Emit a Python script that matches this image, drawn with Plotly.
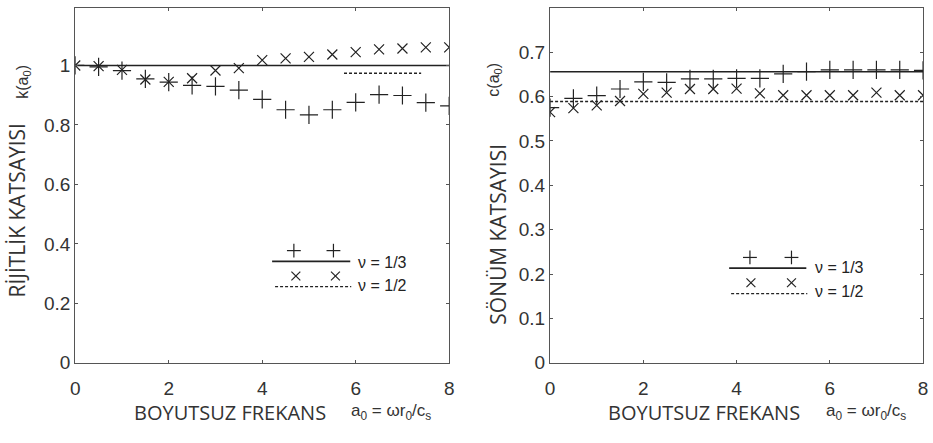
import plotly.graph_objects as go

a0 = [0, 0.5, 1, 1.5, 2, 2.5, 3, 3.5, 4, 4.5, 5, 5.5, 6, 6.5, 7, 7.5, 8]

k_nu13 = [1.0, 0.995, 0.983, 0.955, 0.944, 0.933, 0.93, 0.917, 0.886, 0.851,
          0.834, 0.851, 0.876, 0.902, 0.899, 0.875, 0.864]
k_nu12 = [1.0, 0.998, 0.985, 0.953, 0.945, 0.957, 0.983, 0.991, 1.018, 1.024,
          1.029, 1.037, 1.045, 1.054, 1.057, 1.061, 1.061]
k_static_13 = 1.0
k_static_12 = 0.974
k_static_12_x = [5.75, 7.4]

c_nu13 = [0.575, 0.596, 0.602, 0.617, 0.633, 0.632, 0.64, 0.64, 0.641, 0.641,
          0.651, 0.656, 0.66, 0.66, 0.66, 0.66, 0.659]
c_nu12 = [0.565, 0.574, 0.58, 0.59, 0.606, 0.609, 0.617, 0.617, 0.618, 0.607,
          0.603, 0.603, 0.603, 0.603, 0.609, 0.603, 0.603]
c_static_13 = 0.656
c_static_12 = 0.589

xticks = [0, 2, 4, 6, 8]
k_yticks = [0, 0.2, 0.4, 0.6, 0.8, 1]
k_yticklabels = ["0", "0.2", "0.4", "0.6", "0.8", "1"]
c_yticks = [0, 0.1, 0.2, 0.3, 0.4, 0.5, 0.6, 0.7, 0.8]
c_yticklabels = ["0", "0.1", "0.2", "0.3", "0.4", "0.5", "0.6", "0.7", "0.8"]

W, H = 933, 443
INK = "#222222"
AX = "#555555"
TXT = "#333333"
FONT = "Liberation Sans"
TFONT = "Open Sans"

fig = go.Figure()

plus_marker = dict(symbol="cross-thin", size=13, line=dict(color=INK, width=1.2))
x_marker = dict(symbol="x-thin", size=10, line=dict(color=INK, width=1.2))

# --- left panel: stiffness
fig.add_trace(go.Scatter(x=[0, 8], y=[k_static_13, k_static_13], mode="lines",
                         line=dict(color=INK, width=1.5), xaxis="x", yaxis="y"))
fig.add_trace(go.Scatter(x=k_static_12_x, y=[k_static_12, k_static_12], mode="lines",
                         line=dict(color=INK, width=1.5, dash="3px,2px"), xaxis="x", yaxis="y"))
fig.add_trace(go.Scatter(x=a0, y=k_nu13, mode="markers", marker=plus_marker, xaxis="x", yaxis="y"))
fig.add_trace(go.Scatter(x=a0, y=k_nu12, mode="markers", marker=x_marker, xaxis="x", yaxis="y"))

# --- right panel: damping
fig.add_trace(go.Scatter(x=[0, 8], y=[c_static_13, c_static_13], mode="lines",
                         line=dict(color=INK, width=1.5), xaxis="x2", yaxis="y2"))
fig.add_trace(go.Scatter(x=[0, 8], y=[c_static_12, c_static_12], mode="lines",
                         line=dict(color=INK, width=1.5, dash="3px,2px"), xaxis="x2", yaxis="y2"))
fig.add_trace(go.Scatter(x=a0, y=c_nu13, mode="markers", marker=plus_marker, xaxis="x2", yaxis="y2"))
fig.add_trace(go.Scatter(x=a0, y=c_nu12, mode="markers", marker=x_marker, xaxis="x2", yaxis="y2"))

ydom = [(H - 372) / H, (H - 8) / H]
axcommon = dict(showgrid=False, zeroline=False, showline=True, linecolor=AX, linewidth=1.2,
                mirror="ticks", ticks="inside", ticklen=3, tickcolor=AX,
                tickfont=dict(family=FONT, size=19, color=TXT))

fig.update_layout(
    width=W, height=H, margin=dict(l=0, r=0, t=0, b=0),
    paper_bgcolor="white", plot_bgcolor="white", showlegend=False,
    xaxis=dict(domain=[71 / W, 449 / W], range=[0, 8], tickvals=xticks, anchor="y",
               ticklabelstandoff=8, **axcommon),
    yaxis=dict(domain=ydom, range=[0, 1.194], tickvals=k_yticks, ticktext=k_yticklabels,
               anchor="x", **axcommon),
    xaxis2=dict(domain=[551 / W, 928 / W], range=[0, 8], tickvals=xticks, anchor="y2",
                ticklabelstandoff=8, **axcommon),
    yaxis2=dict(domain=ydom, range=[0, 0.8], tickvals=c_yticks, ticktext=c_yticklabels,
                anchor="x2", **axcommon),
)

ann = []
shapes = []


def px(xp, yp, **kw):
    d = dict(x=xp / W, y=1 - yp / H, xref="paper", yref="paper", showarrow=False)
    d.update(kw)
    return d


def seg(x0, y0, x1, y1, width=1.2, dash=None):
    ln = dict(color=INK, width=width)
    if dash:
        ln["dash"] = dash
    return dict(type="line", xref="paper", yref="paper", x0=x0 / W, x1=x1 / W,
                y0=1 - y0 / H, y1=1 - y1 / H, line=ln)


# x titles
for x0 in (128, 608):
    ann.append(px(x0, 423, text="BOYUTSUZ FREKANS", xanchor="left", yanchor="middle",
                  font=dict(family=TFONT, size=20, color=TXT)))
    ann.append(px(x0 + 220, 423,
                  text="a<sub>0</sub> = ωr<sub>0</sub>/c<sub>s</sub>", xanchor="left",
                  yanchor="middle", font=dict(family=FONT, size=17, color=TXT)))

# y titles
ann.append(px(12, 215, text="RİJİTLİK KATSAYISI", textangle=-90, xanchor="center",
              yanchor="middle", font=dict(family=TFONT, size=21, color=TXT)))
ann.append(px(19, 84, text="k(a<sub>0</sub>)", textangle=-90, xanchor="center",
              yanchor="middle", font=dict(family=FONT, size=16, color=TXT)))
ann.append(px(498, 240, text="SÖNÜM KATSAYISI", textangle=-90, xanchor="center",
              yanchor="middle", font=dict(family=TFONT, size=21, color=TXT)))
ann.append(px(495, 82, text="c(a<sub>0</sub>)", textangle=-90, xanchor="center",
              yanchor="middle", font=dict(family=FONT, size=16, color=TXT)))

# legends (drawn in pixel positions)
legends = [
    dict(plus=(292, 332), py=257, sl=(270, 349, 268), cross=(294, 334), cy=283, dl=(273, 350, 294),
         tx=355, t1=269, t2=293),
    dict(plus=(753, 795), py=264, sl=(732, 810, 275), cross=(754, 795), cy=290, dl=(734, 811, 301),
         tx=817, t1=274, t2=299),
]
for lg in legends:
    for xp in lg["plus"]:
        shapes.append(seg(xp - 7, lg["py"], xp + 7, lg["py"]))
        shapes.append(seg(xp, lg["py"] - 7, xp, lg["py"] + 7))
    for xp in lg["cross"]:
        shapes.append(seg(xp - 4.5, lg["cy"] - 4.5, xp + 4.5, lg["cy"] + 4.5))
        shapes.append(seg(xp - 4.5, lg["cy"] + 4.5, xp + 4.5, lg["cy"] - 4.5))
    x0, x1, yy = lg["sl"]
    shapes.append(seg(x0, yy, x1, yy, width=1.6))
    x0, x1, yy = lg["dl"]
    shapes.append(seg(x0, yy, x1, yy, width=1.3, dash="3px,2px"))
    ann.append(px(lg["tx"], lg["t1"], text="ν = 1/3", xanchor="left", yanchor="middle",
                  font=dict(family=FONT, size=16, color=INK)))
    ann.append(px(lg["tx"], lg["t2"], text="ν = 1/2", xanchor="left", yanchor="middle",
                  font=dict(family=FONT, size=16, color=INK)))

fig.update_layout(annotations=ann, shapes=shapes)
fig.write_html("out.html")
